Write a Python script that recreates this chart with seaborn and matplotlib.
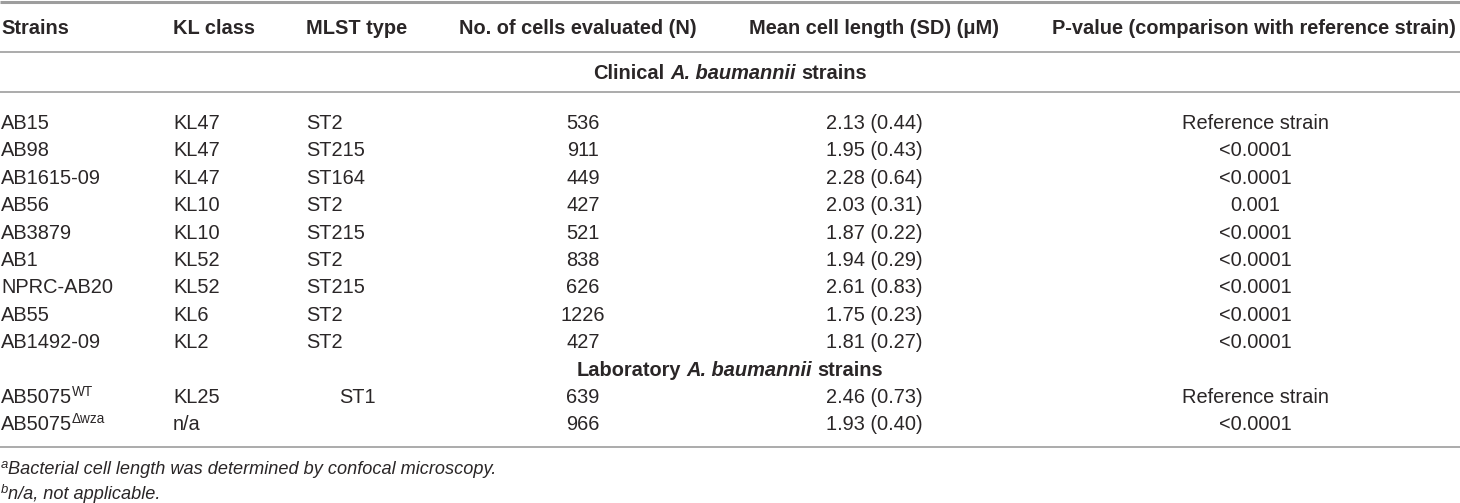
import matplotlib
matplotlib.use("Agg")
import matplotlib.pyplot as plt
import seaborn as sns

# Table content
headers = ["Strains", "KL class", "MLST type", "No. of cells evaluated (N)",
           "Mean cell length (SD) (\u03bcM)", "P-value (comparison with reference strain)"]

clinical_strains = ["AB15", "AB98", "AB1615-09", "AB56", "AB3879", "AB1", "NPRC-AB20", "AB55", "AB1492-09"]
clinical_kl = ["KL47", "KL47", "KL47", "KL10", "KL10", "KL52", "KL52", "KL6", "KL2"]
clinical_mlst = ["ST2", "ST215", "ST164", "ST2", "ST215", "ST2", "ST215", "ST2", "ST2"]
clinical_n = [536, 911, 449, 427, 521, 838, 626, 1226, 427]
clinical_mean = [2.13, 1.95, 2.28, 2.03, 1.87, 1.94, 2.61, 1.75, 1.81]
clinical_sd = [0.44, 0.43, 0.64, 0.31, 0.22, 0.29, 0.83, 0.23, 0.27]
clinical_p = ["Reference strain", "<0.0001", "<0.0001", "0.001", "<0.0001",
              "<0.0001", "<0.0001", "<0.0001", "<0.0001"]

lab_strains = ["AB5075", "AB5075"]
lab_sup = ["WT", "\u0394wza"]
lab_kl = ["KL25", "n/a"]
lab_mlst = ["ST1", ""]
lab_n = [639, 966]
lab_mean = [2.46, 1.93]
lab_sd = [0.73, 0.40]
lab_p = ["Reference strain", "<0.0001"]

footnotes = [("a", "Bacterial cell length was determined by confocal microscopy."),
             ("b", "n/a, not applicable.")]

sns.set_theme(style="white")
plt.rcParams["font.family"] = ["Liberation Sans", "DejaVu Sans"]

W, H = 1460, 503
fig = plt.figure(figsize=(W / 100, H / 100), dpi=100)
ax = fig.add_axes([0, 0, 1, 1])
ax.set_xlim(0, W)
ax.set_ylim(H, 0)
ax.axis("off")

TXT = "#2a2627"
LINE = "#9d9d9d"
FS = 14.45
FN = 13.1
CAP = 7  # half cap height in px, to go from visual centre to baseline

renderer = fig.canvas.get_renderer()


def width_of(s, **kw):
    t = ax.text(0, 0, s, fontsize=kw.get("size", FS), fontweight=kw.get("weight", "normal"),
                fontstyle=kw.get("style", "normal"))
    w = t.get_window_extent(renderer).width
    t.remove()
    return w


def runs(x, yc, parts, ha="left"):
    # parts: list of (text, size, weight, style, dy)
    widths = []
    for s, size, weight, style, dy in parts:
        if s == " ":
            w = width_of("x x", size=size, weight=weight, style=style) - \
                width_of("xx", size=size, weight=weight, style=style)
        else:
            w = width_of(s, size=size, weight=weight, style=style)
        widths.append(w)
    total = sum(widths)
    if ha == "center":
        x = x - total / 2
    for (s, size, weight, style, dy), w in zip(parts, widths):
        if s != " ":
            ax.text(x, yc + CAP + dy, s, fontsize=size, fontweight=weight, fontstyle=style,
                    color=TXT, va="baseline", ha="left")
        x += w


def cell(x, yc, s, ha="left", weight="normal"):
    ax.text(x, yc + CAP, s, fontsize=FS, fontweight=weight, color=TXT, va="baseline", ha=ha)


# column positions
head_x = [1, 173, 306, 459, 749, 1052]
col_x = [1, 173, 306, 583, 874, 1255]

# rules
ax.plot([0, W], [1.5, 1.5], color=LINE, lw=2.2, solid_capstyle="butt")
for y in [52, 92, 447]:
    ax.plot([0, W], [y, y], color=LINE, lw=1.2, solid_capstyle="butt")

# header
for x, h in zip(head_x, headers):
    cell(x, 27, h, weight="bold")

# section titles
def section(yc, word):
    runs(W / 2, yc, [(word, FS, "bold", "normal", 0), (" ", FS, "bold", "normal", 0),
                     ("A. baumannii", FS, "bold", "italic", 0), (" ", FS, "bold", "normal", 0),
                     ("strains", FS, "bold", "normal", 0)], ha="center")


section(72, "Clinical")

row_h = 27.4
y = 122
for i in range(len(clinical_strains)):
    cell(col_x[0], y, clinical_strains[i])
    cell(col_x[1], y, clinical_kl[i])
    cell(col_x[2], y, clinical_mlst[i])
    cell(col_x[3], y, str(clinical_n[i]), ha="center")
    cell(col_x[4], y, f"{clinical_mean[i]:.2f} ({clinical_sd[i]:.2f})", ha="center")
    cell(col_x[5], y, clinical_p[i], ha="center")
    y += row_h

section(y, "Laboratory")
y += row_h
for i in range(len(lab_strains)):
    runs(col_x[0], y, [(lab_strains[i], FS, "normal", "normal", 0),
                       (lab_sup[i], FS * 0.68, "normal", "normal", -7)])
    cell(col_x[1], y, lab_kl[i])
    cell(339, y, lab_mlst[i])
    cell(col_x[3], y, str(lab_n[i]), ha="center")
    cell(col_x[4], y, f"{lab_mean[i]:.2f} ({lab_sd[i]:.2f})", ha="center")
    cell(col_x[5], y, lab_p[i], ha="center")
    y += row_h

# footnotes
for (mark, note), yc in zip(footnotes, [467, 492]):
    runs(1, yc, [(mark, FN * 0.72, "normal", "italic", -6), (note, FN, "normal", "italic", 0)])

fig.savefig("out.png", dpi=100)
